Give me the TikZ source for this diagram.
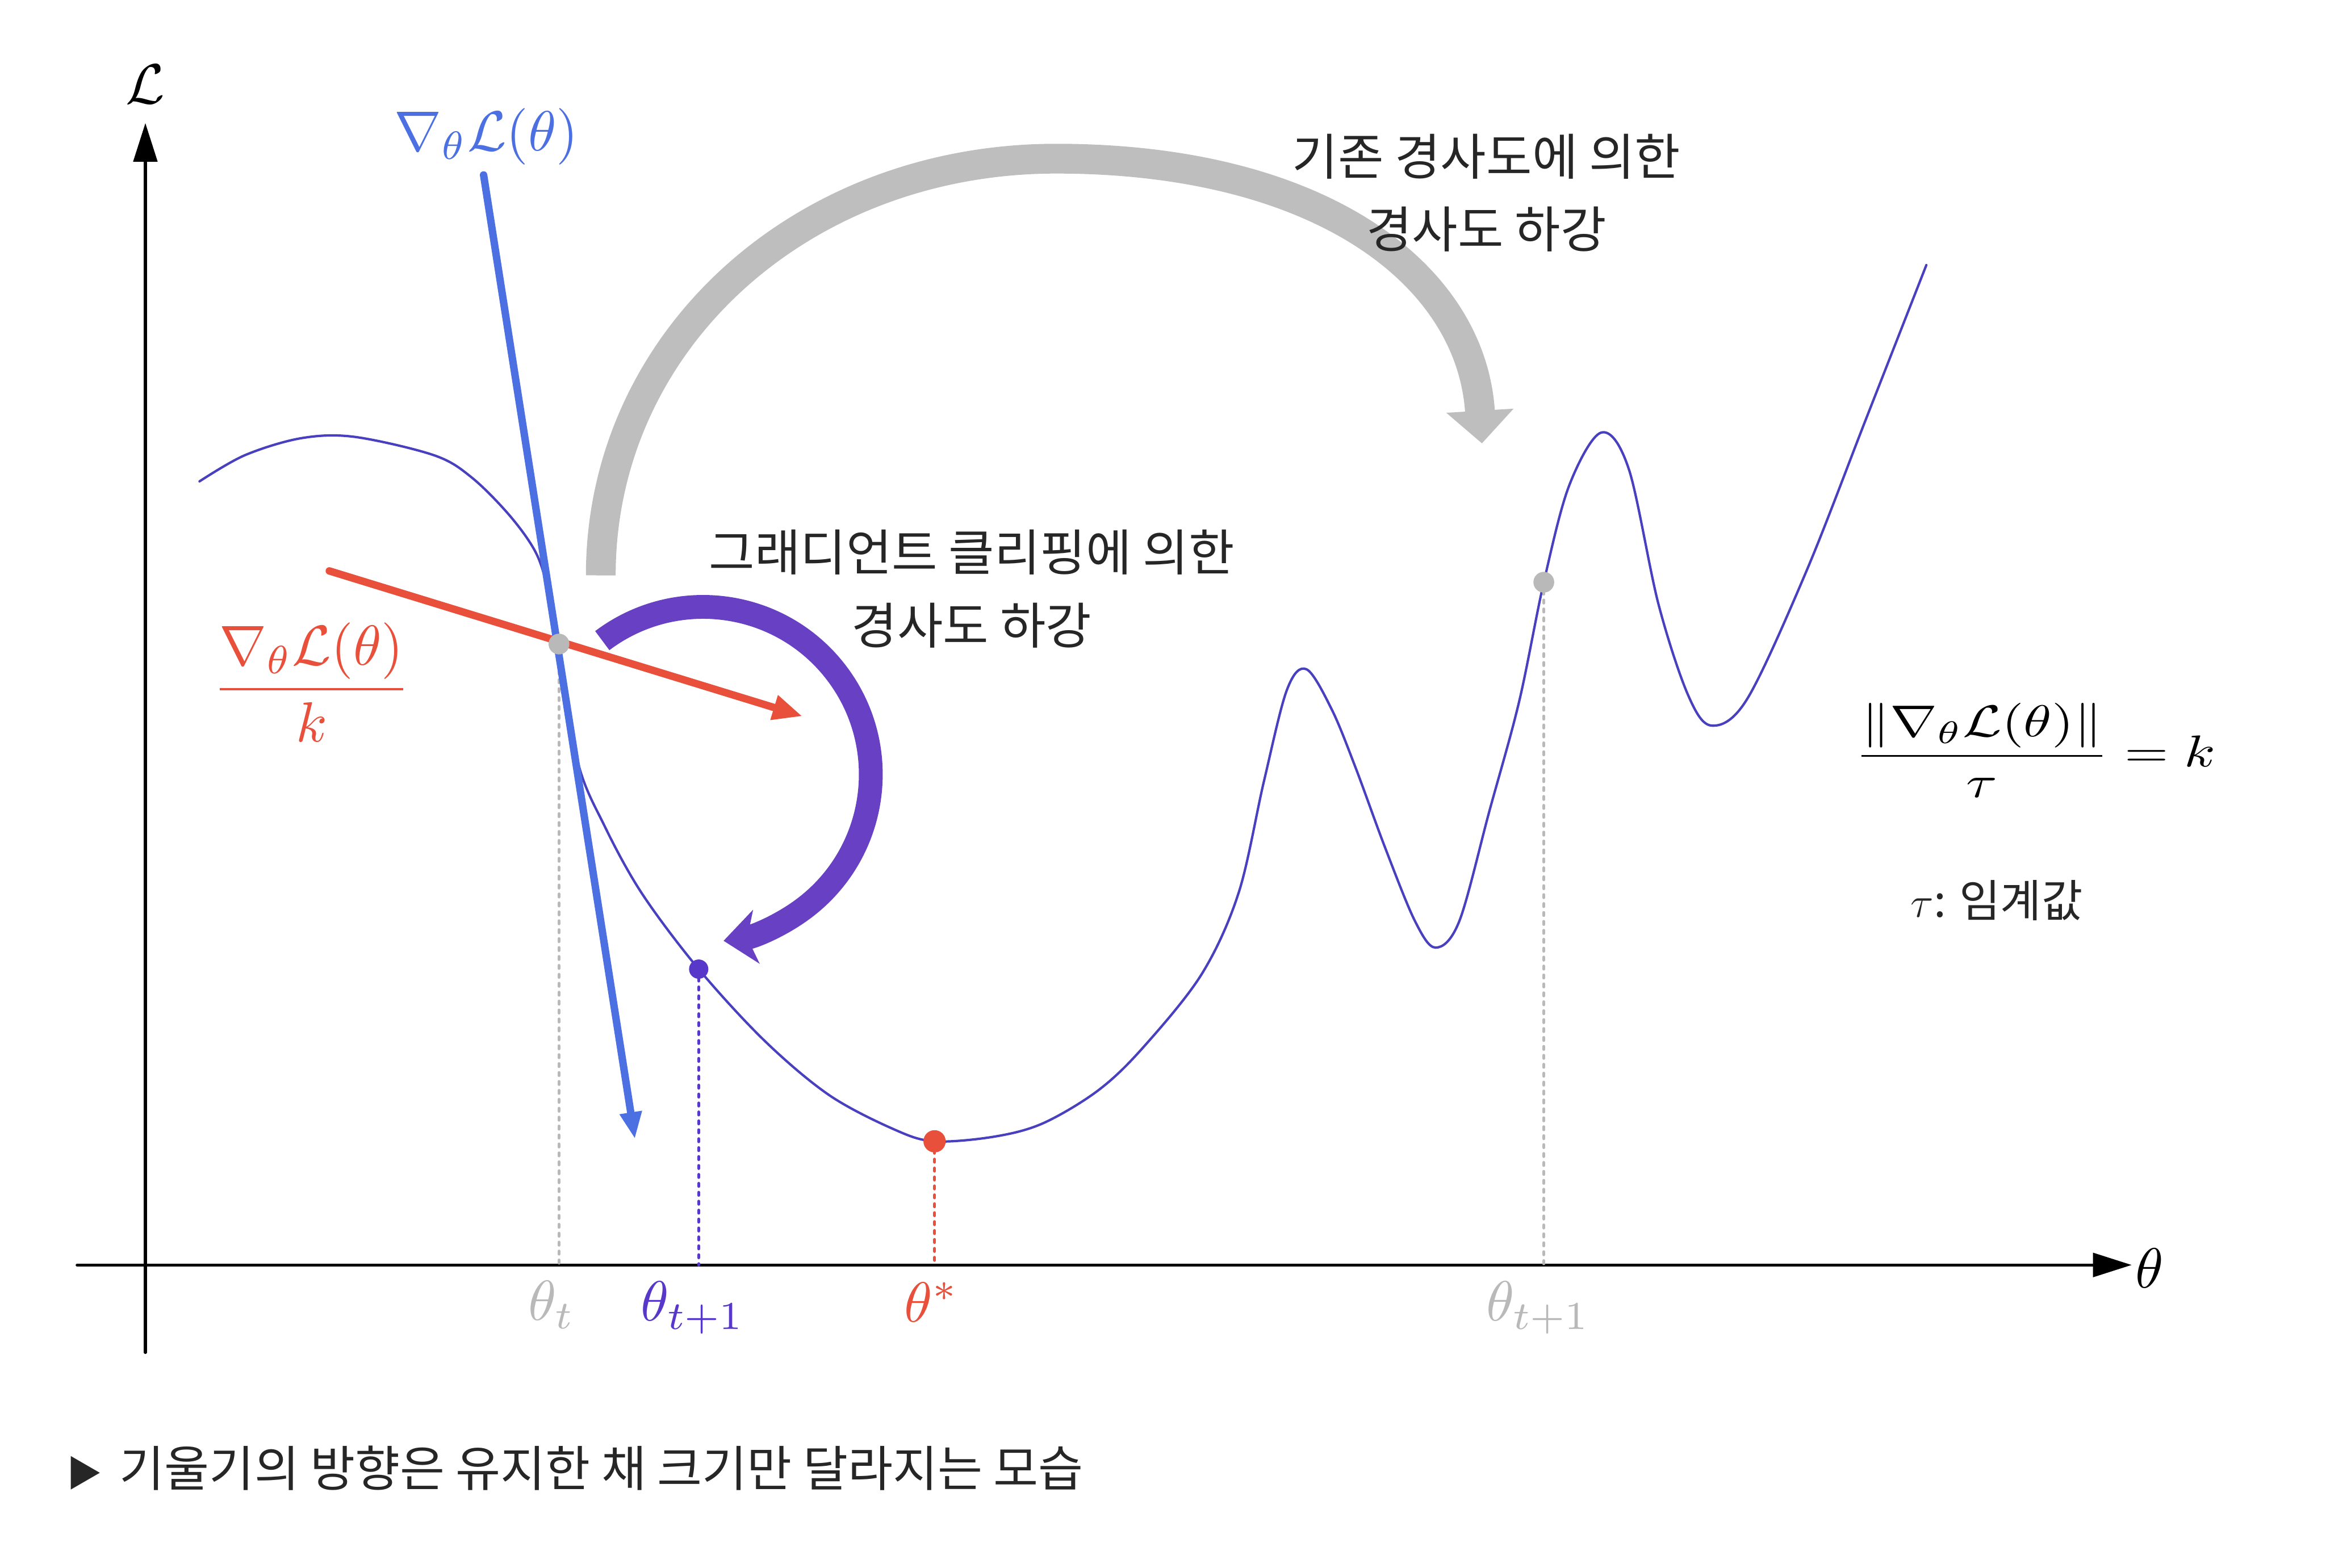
\documentclass[tikz,border=0pt]{standalone}
\usepackage{amsmath,amssymb}
\usepackage{fontspec}
\newfontfamily\krfont{Noto Sans CJK KR}
\usetikzlibrary{arrows.meta}
\usepackage{xcolor}
\definecolor{lossblue}{RGB}{72,64,190}
\definecolor{gradblue}{RGB}{76,112,226}
\definecolor{clipred}{RGB}{233,80,60}
\definecolor{clippurple}{RGB}{104,64,196}
\definecolor{steppurple}{RGB}{88,56,200}
\definecolor{stepgray}{RGB}{190,190,190}
\definecolor{labgray}{RGB}{185,185,185}

\begin{document}
\begin{tikzpicture}[x=0.17516mm,y=0.17516mm,>={Triangle[length=9pt,width=7pt]},line cap=round,
  mathlab/.style={scale=1.9},
  krlab/.style={font=\krfont\fontsize{16.7}{24.5}\selectfont,text=black!85,align=center},
  dropline/.style={dotted,line width=1pt}]
\useasboundingbox (0,0) rectangle (1568,1057);
% axes
\coordinate (xs) at (52,204);
\coordinate (xe) at (1437,204);
\coordinate (ys) at (98,145);
\coordinate (ye) at (98,974);
\draw[line width=1pt,-{Triangle[length=13pt,width=8pt]}] (xs) -- (xe);
\draw[line width=1pt,-{Triangle[length=13pt,width=8pt]}] (ys) -- (ye);
\node[mathlab] (lx) at (1449,202) {$\theta$};
\node[mathlab] (ly) at (98,1000) {$\mathcal{L}$};
% loss curve
\draw[lossblue,line width=0.8pt] plot[smooth,tension=0.55] coordinates {
  (134.5,732.4) (165,750) (203,761.5) (239,762.4) (292.6,750) (318,735)
  (343.7,709.2) (361.4,684) (370,657) (376.8,622.7) (389.4,543.7) (407.4,500.3)
  (432.8,454.4) (471,403.5) (515.6,355) (559,318.5) (603,295.3) (630,287.4)
  (670,290.5) (703,299.5) (740,321.5) (770,350) (810,400) (835,455) (852,530)
  (867.5,591.7) (880.7,605.7) (897.8,578.5) (913.8,539.4) (933.8,485.2)
  (953.8,436) (967.8,418) (983.8,436) (1004,510) (1024,583.6) (1040.7,664.4)
  (1057.7,729.3) (1079.4,765.3) (1098,740.7) (1118,649.6) (1138,588.2)
  (1154,567.7) (1178,586) (1218,672.5) (1258,774.7) (1298.6,878.3)};
\coordinate (tt) at (376.8,622.7);
\coordinate (tn) at (471,403.5);
\coordinate (ts) at (630,287.4);
\coordinate (tf) at (1040.7,664.4);
\draw[dropline,labgray] (tt) -- (tt |- xs);
\draw[dropline,steppurple] (tn) -- (tn |- xs);
\draw[dropline,clipred] (ts) -- (ts |- xs);
\draw[dropline,labgray] (tf) -- (tf |- xs);
% descent arrows
\draw[stepgray,line width=10pt,line cap=butt,-{Triangle[length=11pt,width=22pt]}]
  (405,669) .. controls (405,827) and (540,950) .. (712,950)
  .. controls (890,950) and (992,872) .. (999,758);
\draw[clippurple,line width=8pt,line cap=butt,-{Stealth[length=11pt,width=18pt,inset=3pt]}]
  (406,625) arc[start angle=127,end angle=-83,radius=113];
\node[krlab] (oldlab) at (1002,927) {기존 경사도에 의한\\경사도 하강};
\node[krlab] (cliplab) at (655,660) {그래디언트 클리핑에 의한\\경사도 하강};
% gradient and clipped gradient
\coordinate (gtop) at (326,939);
\coordinate (gtip) at (428,289);
\coordinate (ctail) at (222,672);
\coordinate (ctip) at (541,574);
\draw[gradblue,line width=2.5pt,->] (gtop) -- (gtip);
\draw[clipred,line width=2.5pt,-{Triangle[length=10pt,width=8pt]}] (ctail) -- (ctip);
\node[mathlab,text=gradblue] (glab) at (328,965) {$\nabla_\theta\mathcal{L}(\theta)$};
\node[mathlab,text=clipred] (clab) at (210,597) {$\dfrac{\nabla_\theta\mathcal{L}(\theta)}{k}$};
% points
\fill[labgray] (tt) circle[radius=7];
\fill[steppurple] (tn) circle[radius=6.5];
\fill[clipred] (ts) circle[radius=7.5];
\fill[labgray] (tf) circle[radius=7];
\node[mathlab,text=labgray] (lt) at (372,177) {$\theta_t$};
\node[mathlab,text=steppurple] (ln) at (467,175) {$\theta_{t+1}$};
\node[mathlab,text=clipred] (ls) at (628,179) {$\theta^*$};
\node[mathlab,text=labgray] (lf) at (1037,175) {$\theta_{t+1}$};
% threshold
\node[xscale=1.9,yscale=1.5] (norm) at (1372,551)
  {$\dfrac{\|\nabla_\theta\mathcal{L}(\theta)\|}{\tau}=k$};
\node[font=\krfont\fontsize{15}{18}\selectfont,text=black!85] (tau) at (1346,450) {$\tau$: 임계값};
\node[anchor=west,font=\krfont\fontsize{16.4}{18}\selectfont,text=black!85] (cap) at (38,67)
  {{\fontsize{12}{12}\selectfont ▶}\hspace{0.35em}기울기의 방향은 유지한 채 크기만 달라지는 모습};
\end{tikzpicture}
\end{document}
